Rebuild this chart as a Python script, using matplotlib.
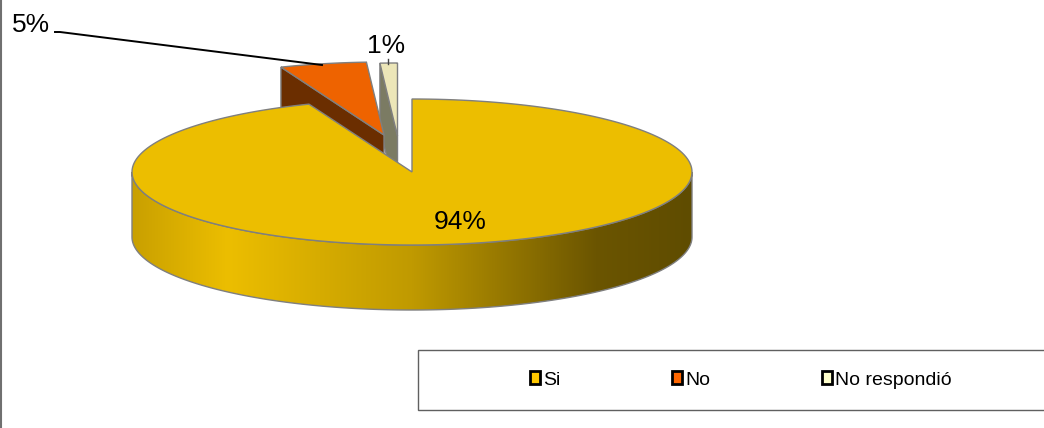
import numpy as np
import matplotlib
matplotlib.use("Agg")
import matplotlib.pyplot as plt
from matplotlib.colors import LinearSegmentedColormap
from matplotlib.patches import Polygon, Rectangle, Patch

plt.rcParams['font.family'] = ['Liberation Sans', 'DejaVu Sans']

categories = ["Si", "No", "No respondió"]
values = [94, 5, 1]
labels = ["94%", "5%", "1%"]
legend_colors = ["#ffc800", "#ff6600", "#ffffcc"]
top_colors = ["#ecbe00", "#ee6300", "#ece6b8"]
wall_colors = [None, "#6b2e00", "#7b7b63"]

# pie geometry in pixels
rx, ry, depth = 280, 73, 65
centers = [(412, 172), (384, 135), (397.5, 136)]
edge = "#7f7f7f"

fig = plt.figure(figsize=(10.44, 4.28), dpi=100)
ax = fig.add_axes([0, 0, 1, 1])
ax.set_xlim(0, 1044)
ax.set_ylim(428, 0)
ax.axis("off")


def arc(c, a0, a1):
    th = np.radians(np.linspace(a0, a1, 200))
    return np.column_stack([c[0] + rx * np.sin(th), c[1] - ry * np.cos(th)])


angles = np.cumsum([0] + values) * 3.6

# exploded slices first, the big one covers them
for i in [2, 1]:
    c = centers[i]
    pts = arc(c, angles[i], angles[i + 1])
    start = pts[0]
    wall = [start, c, (c[0], c[1] + depth), (start[0], start[1] + depth)]
    ax.add_patch(Polygon(wall, fc=wall_colors[i], ec=edge, lw=1, zorder=2 + (i == 1)))
    ax.add_patch(Polygon(np.vstack([[c], pts]), fc=top_colors[i], ec=edge, lw=1, zorder=2 + (i == 1)))

# main slice side with gradient
c = centers[0]
front = arc(c, 90, 270)
side = np.vstack([front, front[::-1] + [0, depth]])
side_patch = Polygon(side, fc="none", ec=edge, lw=1, zorder=5)
ax.add_patch(side_patch)
cmap = LinearSegmentedColormap.from_list("side", [
    (0.0, "#c9a000"), (0.17, "#ecbe00"), (0.5, "#c09a00"),
    (0.83, "#6b5500"), (1.0, "#5f4c00")])
grad = ax.imshow(np.linspace(0, 1, 256)[None, :], cmap=cmap, aspect="auto",
                 extent=(c[0] - rx, c[0] + rx, c[1] + ry + depth, c[1] - 5), zorder=4)
grad.set_clip_path(side_patch)
ax.set_xlim(0, 1044)
ax.set_ylim(428, 0)

pts = arc(c, angles[0], angles[1])
ax.add_patch(Polygon(np.vstack([[c], pts]), fc=top_colors[0], ec=edge, lw=1, zorder=6))

# labels
ax.text(460, 222, labels[0], fontsize=19, ha="center", va="center", zorder=8)
ax.text(31, 25, labels[1], fontsize=19, ha="center", va="center", zorder=8)
ax.text(386, 46, labels[2], fontsize=19, ha="center", va="center", zorder=8)
ax.plot([55, 60, 322], [32, 32, 65], color="black", lw=1.4, zorder=7)
ax.plot([388, 388], [59, 64], color="#444444", lw=1, zorder=7)

# frame on the left and legend box
ax.plot([1, 1], [0, 428], color="#707070", lw=1.5, zorder=1)
ax.add_patch(Rectangle((417.5, 349.5), 640, 60, fc="white", ec="#606060", lw=1, zorder=1))
handles = [Patch(fc=col, ec="black", lw=2) for col in legend_colors]
ax.legend(handles, categories, ncol=3, frameon=False, fontsize=14,
          loc="center left", bbox_to_anchor=(530, 380), bbox_transform=ax.transData,
          handlelength=0.52, handleheight=0.6, handletextpad=0.15, columnspacing=5.75,
          borderpad=0, borderaxespad=0)

fig.savefig("out.png", dpi=100)
